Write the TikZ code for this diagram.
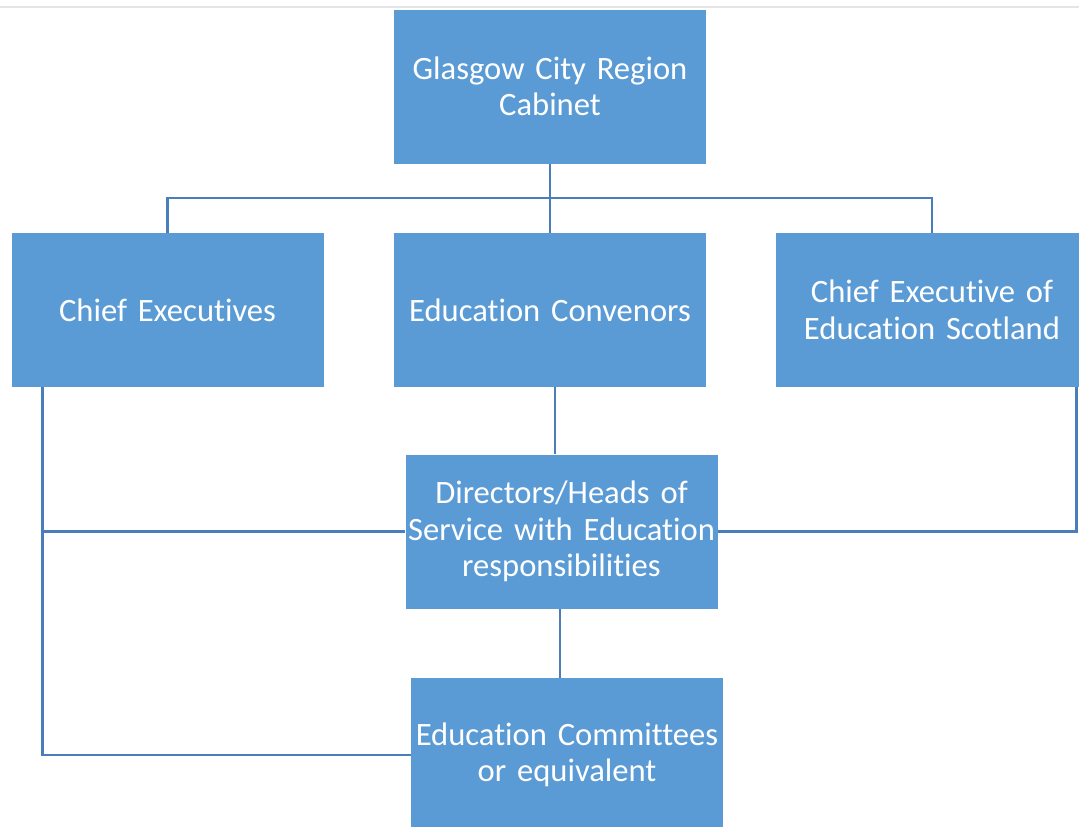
\documentclass[tikz,border=0pt]{standalone}
\usepackage{fontspec}
\setmainfont[Ligatures=NoCommon]{Carlito}
\usetikzlibrary{calc}
\definecolor{boxblue}{HTML}{5B9BD5}
\definecolor{lineblue}{HTML}{4A7EBB}
\tikzset{
  orgbox/.style={rectangle, fill=boxblue, draw=none, minimum width=312pt, minimum height=154pt,
    text width=312pt, align=center, text=white, inner sep=0pt,
    font=\fontsize{32.6}{36.5}\selectfont},
  link/.style={draw=lineblue, line width=2.8pt}
}
\begin{document}
\begin{tikzpicture}[x=1pt,y=-1pt]
\useasboundingbox (0,0) rectangle (1079,827);
\clip (0,0) rectangle (1079,827);
\fill[white] (0,0) rectangle (1079,827);
\draw[gray!20, line width=2pt] (0,7) -- (1079,7);
\node[orgbox] (cab) at (550,86.5) {Glasgow City Region\\Cabinet};
\node[orgbox] (ce) at (167.5,310) {Chief Executives};
\node[orgbox] (conv) at (550,310) {Education Convenors};
\node[orgbox] (ces) at (932,310) {Chief Executive of\\Education Scotland};
\node[orgbox] (dir) at (561.5,531.5) {Directors/Heads of\\Service with Education\\responsibilities};
\node[orgbox] (com) at (567,755) {Education Committees\\or equivalent};
\coordinate (bus) at (550,198);
\draw[link] (cab.south) -- (conv.north);
\draw[link] (ce.north) |- (bus) -| (ces.north);
\draw[link] ($(conv.south)+(5,0)$) -- ($(dir.north)+(-6.5,0)$);
\draw[link] ($(dir.south)+(-1.5,0)$) -- ($(com.north)+(-7,0)$);
\draw[link] ($(ce.south west)+(31,0)$) |- (com.west);
\draw[link] ($(ce.south west)+(31,0)$) |- (dir.west);
\draw[link] ($(ces.south west)+(301,0)$) |- (dir.east);
\end{tikzpicture}
\end{document}
